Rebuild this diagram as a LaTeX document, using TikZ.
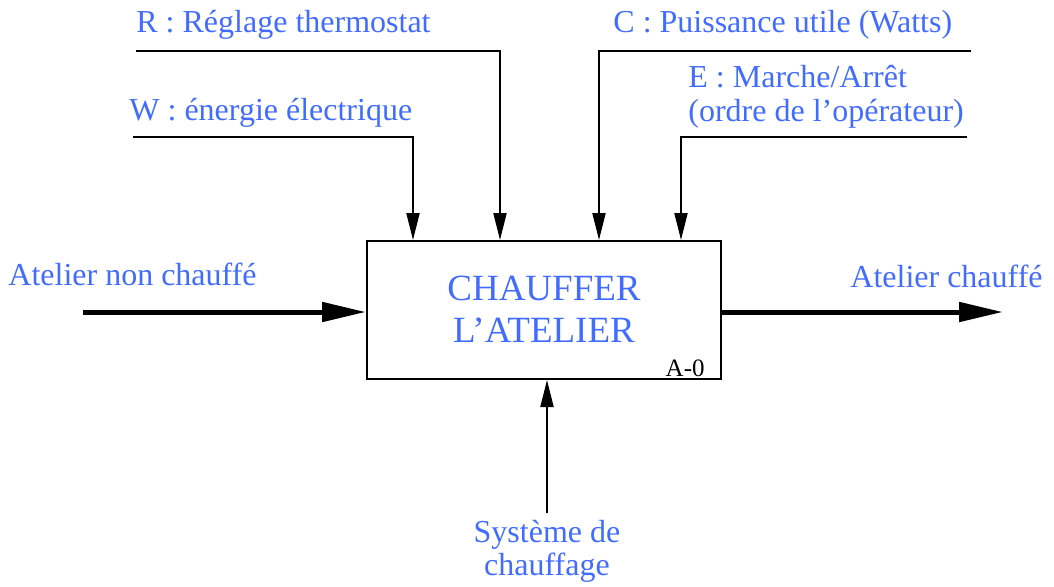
\documentclass[tikz,border=0pt]{standalone}
\usepackage{fontspec}
\setmainfont{Liberation Serif}
\usepackage{tikz}
\usetikzlibrary{positioning,arrows.meta,calc}

\definecolor{sadtblue}{RGB}{66,108,255}

\begin{document}
\begin{tikzpicture}[
    x=0.5pt, y=-0.5pt,
    activity/.style={rectangle, draw=black, line width=1pt, minimum width=177pt, minimum height=69pt, inner sep=0pt},
    ctrl/.style={-{Triangle[length=13.5pt,width=6.5pt]}, line width=1pt},
    flow/.style={-{Triangle[length=22pt,width=9.5pt]}, line width=2.5pt},
    label/.style={inner sep=0pt, text=sadtblue, font=\fontsize{16}{16.5}\selectfont}
]
\useasboundingbox (0,0) rectangle (1054,586);

% Activity box
\node[activity] (chauffer) at (544,310) {};
\node[text=sadtblue, align=center, inner sep=0pt, font=\fontsize{18.5}{21}\selectfont, anchor=base] (titre) at (544,342) {CHAUFFER\\L'ATELIER};
\node[inner sep=0pt, anchor=base east, font=\fontsize{12.5}{14}\selectfont] (num) at (705,376) {A-0};

% Controls
\coordinate (w0) at (133,137);
\coordinate (w1) at (413,137);
\draw[ctrl] (w0) -- (w1) -- (w1 |- chauffer.north);
\node[label, anchor=base west] (wlab) at (129,120) {W : énergie électrique};

\coordinate (r0) at (136,51);
\coordinate (r1) at (500,51);
\draw[ctrl] (r0) -- (r1) -- (r1 |- chauffer.north);
\node[label, anchor=base west] (rlab) at (136,32) {R : Réglage thermostat};

\coordinate (c0) at (971,51);
\coordinate (c1) at (599,51);
\draw[ctrl] (c0) -- (c1) -- (c1 |- chauffer.north);
\node[label, anchor=base west] (clab) at (613,32) {C : Puissance utile (Watts)};

\coordinate (e0) at (967,137);
\coordinate (e1) at (681,137);
\draw[ctrl] (e0) -- (e1) -- (e1 |- chauffer.north);
\node[label, anchor=base west, align=left, font=\fontsize{16}{17}\selectfont] (elab) at (688,121) {E : Marche/Arrêt\\(ordre de l'opérateur)};

% Input and output
\coordinate (in0) at (83,312);
\draw[flow] (in0) -- (in0 -| chauffer.west);
\node[label, anchor=base west] (inlab) at (8,285) {Atelier non chauffé};

\coordinate (out1) at (1003,312);
\draw[flow] (chauffer.east |- out1) -- (out1);
\node[label, anchor=base east] (outlab) at (1043,287) {Atelier chauffé};

% Mechanism
\coordinate (m0) at (547,513);
\draw[ctrl] (m0) -- (m0 |- chauffer.south);
\node[label, anchor=base, align=center] (mlab) at (547,575) {Système de\\chauffage};

\end{tikzpicture}
\end{document}
